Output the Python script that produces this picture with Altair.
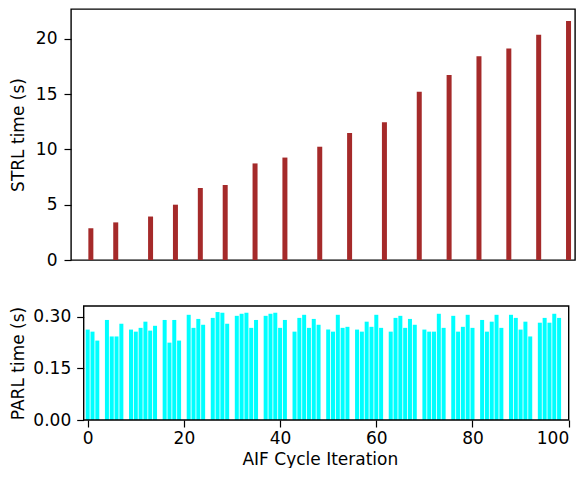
import altair as alt
import pandas as pd

# STRL iterations (gaps in PARL series) and their times (s)
strl_iter = [3, 8, 15, 20, 25, 30, 36, 42, 49, 55, 62, 69, 75, 81, 87, 93, 99]
strl_time = [2.87, 3.40, 3.93, 5.00, 6.51, 6.78, 8.73, 9.26, 10.24, 11.48,
             12.46, 15.21, 16.72, 18.41, 19.12, 20.37, 21.61]

# PARL iterations and times (s)
parl_iter = [0, 1, 2, 4, 5, 6, 7, 9, 10, 11, 12, 13, 14, 16, 17, 18, 19,
             21, 22, 23, 24, 26, 27, 28, 29, 31, 32, 33, 34, 35, 37, 38, 39,
             40, 41, 43, 44, 45, 46, 47, 48, 50, 51, 52, 53, 54, 56, 57, 58,
             59, 60, 61, 63, 64, 65, 66, 67, 68, 70, 71, 72, 73, 74, 76, 77,
             78, 79, 80, 82, 83, 84, 85, 86, 88, 89, 90, 91, 92, 94, 95, 96,
             97, 98]
parl_time = [0.263, 0.257, 0.231, 0.291, 0.243, 0.243, 0.280, 0.263, 0.257,
             0.268, 0.286, 0.260, 0.274, 0.291, 0.225, 0.291, 0.231,
             0.306, 0.268, 0.294, 0.277, 0.297, 0.314, 0.312, 0.280,
             0.303, 0.309, 0.312, 0.268, 0.291, 0.303, 0.309, 0.312,
             0.268, 0.291, 0.257, 0.297, 0.306, 0.268, 0.294, 0.277,
             0.263, 0.257, 0.306, 0.268, 0.271, 0.263, 0.257, 0.286,
             0.271, 0.306, 0.268, 0.257, 0.297, 0.303, 0.268, 0.294, 0.277,
             0.263, 0.257, 0.257, 0.309, 0.268, 0.303, 0.257,
             0.271, 0.306, 0.268, 0.291, 0.257, 0.286, 0.306, 0.268,
             0.306, 0.297, 0.263, 0.286, 0.243, 0.283, 0.297, 0.283,
             0.309, 0.297]

x_ticks = [0, 20, 40, 60, 80, 100]
strl_ticks = [0, 5, 10, 15, 20]
parl_ticks = [0, 0.15, 0.30]

# axis limits
strl_xlim = [-0.99, 100.3]
strl_ylim = [0, 22.69]
parl_frame_x = [-0.83, 100]
parl_xdomain = [-3.47, 100]
parl_ylim = [0, 0.3316]

strl_df = pd.DataFrame({"iter": strl_iter, "time": strl_time})
parl_df = pd.DataFrame({"iter": parl_iter, "time": parl_time})
frame_df = pd.DataFrame({"iter": [parl_frame_x[0]], "iter2": [parl_frame_x[1]],
                         "time": [parl_ylim[0]], "time2": [parl_ylim[1]]})

FONT = "DejaVu Sans"
FS = 17

top = alt.Chart(strl_df).mark_bar(color="#a52a2a", size=5).encode(
    x=alt.X("iter:Q", axis=None,
            scale=alt.Scale(domain=strl_xlim, nice=False, zero=False,
                            padding=0)),
    y=alt.Y("time:Q", title="STRL time (s)",
            scale=alt.Scale(domain=strl_ylim, nice=False),
            axis=alt.Axis(values=strl_ticks, grid=False,
                          tickSize=7, labelPadding=7, titlePadding=7.4,
                          domain=False)),
).properties(width=504, height=251,
             view=alt.ViewBackground(stroke="black", strokeWidth=1.4))

xscale_b = alt.Scale(domain=parl_xdomain, nice=False, zero=False, padding=0)
yscale_b = alt.Scale(domain=parl_ylim, nice=False)

bars_b = alt.Chart(parl_df).mark_bar(color="#00ffff", size=4).encode(
    x=alt.X("iter:Q", title="AIF Cycle Iteration", scale=xscale_b,
            axis=alt.Axis(values=x_ticks, grid=False, tickSize=7,
                          labelPadding=3, titlePadding=5, domain=False,
                          format="d")),
    y=alt.Y("time:Q", title="PARL time (s)", scale=yscale_b,
            axis=alt.Axis(values=parl_ticks, format=".2f", grid=False,
                          tickSize=7, labelPadding=6, titlePadding=5.4,
                          domain=False, offset=-12.7)),
)

frame_b = alt.Chart(frame_df).mark_rect(
    fillOpacity=0, stroke="black", strokeWidth=1.4
).encode(
    x=alt.X("iter:Q", title="AIF Cycle Iteration"),
    x2="iter2:Q",
    y=alt.Y("time:Q", title="PARL time (s)"),
    y2="time2:Q",
)

bottom = alt.layer(bars_b, frame_b).properties(
    width=497.7, height=114,
    view=alt.ViewBackground(stroke="transparent"))

chart = alt.vconcat(top, bottom, spacing=35).properties(
    padding=0
).configure_axis(
    labelFont=FONT, titleFont=FONT, labelFontSize=FS, titleFontSize=FS,
    labelColor="black", titleColor="black", tickColor="black",
    tickWidth=1.2, titleFontWeight="normal"
)

chart.save("out.html", embed_options={"renderer": "svg", "actions": False})
